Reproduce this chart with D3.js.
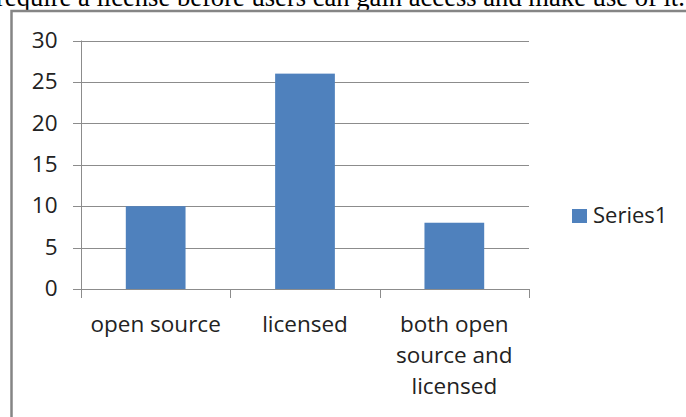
<!DOCTYPE html>
<html>
<head>
<meta charset="utf-8">
<script src="https://cdn.jsdelivr.net/npm/d3@7"></script>
<style>
  body { margin: 0; background: #fff; }
  svg { display: block; }
  .tick text { font-family: "Open Sans", sans-serif; fill: #222; }
</style>
</head>
<body>
<svg id="chart" width="686" height="417"></svg>
<script>
var categories = [["open source"], ["licensed"], ["both open", "source and", "licensed"]];
var series1 = [10, 26, 8];
var yTicks = [0, 5, 10, 15, 20, 25, 30];
var seriesName = "Series1";
var caption = "require a license before users can gain access and make use of it.";

var svg = d3.select('#chart');
var color = '#4f81bd';
var grid = '#8c8c8c';
var font = '"Open Sans", sans-serif';
var fs = 22.5;

// cut-off line of document text above the chart
svg.append('text')
  .attr('x', -4).attr('y', 5.5)
  .attr('font-family', '"Liberation Serif", serif')
  .attr('font-size', 26.6)
  .attr('fill', '#000')
  .text(caption);

// chart frame (only top and left edges visible)
svg.append('path')
  .attr('d', 'M11.5,417V11H686')
  .attr('fill', 'none')
  .attr('stroke', '#858585')
  .attr('stroke-width', 2.5);

var x = d3.scaleBand().domain(d3.range(categories.length)).range([81, 529]).paddingInner(0).paddingOuter(0);
var y = d3.scaleLinear().domain([0, 30]).range([289, 40.5]);

var g = svg.append('g');

// horizontal grid lines
g.selectAll('line.grid').data(yTicks).enter().append('line')
  .attr('class', 'grid')
  .attr('x1', 73).attr('x2', 529)
  .attr('y1', function(d){ return Math.round(y(d)) + 0.5; })
  .attr('y2', function(d){ return Math.round(y(d)) + 0.5; })
  .attr('stroke', grid).attr('stroke-width', 1);

// y axis
var yAxis = d3.axisLeft(y).tickValues(yTicks).tickSize(0).tickPadding(24);
var ya = g.append('g').attr('transform', 'translate(81.5,0)').call(yAxis);
ya.select('.domain').attr('stroke', grid).attr('d', 'M0,' + y(30) + 'V298');
ya.selectAll('.tick text').attr('font-size', fs).attr('dy', '0.3em');

// bars
var bw = x.bandwidth() * 0.4;
g.selectAll('rect.bar').data(series1).enter().append('rect')
  .attr('class', 'bar')
  .attr('x', function(d, i){ return x(i) + x.bandwidth() / 2 - bw / 2; })
  .attr('y', function(d){ return y(d); })
  .attr('width', bw)
  .attr('height', function(d){ return y(0) - y(d); })
  .attr('fill', color);

// x axis line and ticks between categories
g.append('line')
  .attr('x1', 73).attr('x2', 529)
  .attr('y1', Math.round(y(0)) + 0.5).attr('y2', Math.round(y(0)) + 0.5)
  .attr('stroke', grid);
var bounds = d3.range(categories.length + 1).map(function(i){
  return i < categories.length ? x(i) : x(i - 1) + x.bandwidth();
});
g.selectAll('line.xtick').data(bounds).enter().append('line')
  .attr('class', 'xtick')
  .attr('x1', function(d){ return Math.round(d) + 0.5; })
  .attr('x2', function(d){ return Math.round(d) + 0.5; })
  .attr('y1', y(0)).attr('y2', 298)
  .attr('stroke', grid);

// category labels
var lab = g.selectAll('text.cat').data(categories).enter().append('text')
  .attr('class', 'cat')
  .attr('text-anchor', 'middle')
  .attr('font-family', font)
  .attr('font-size', fs)
  .attr('fill', '#222');
lab.each(function(lines, i){
  var t = d3.select(this);
  lines.forEach(function(s, j){
    t.append('tspan')
      .attr('x', x(i) + x.bandwidth() / 2)
      .attr('y', 332 + j * 31)
      .text(s);
  });
});

// legend
var leg = svg.append('g').attr('transform', 'translate(572,209)');
leg.append('rect').attr('width', 15).attr('height', 14).attr('fill', color);
leg.append('text')
  .attr('x', 21).attr('y', 7).attr('dy', '0.33em')
  .attr('font-family', font)
  .attr('font-size', 22)
  .attr('fill', '#222')
  .text(seriesName);
</script>
</body>
</html>
